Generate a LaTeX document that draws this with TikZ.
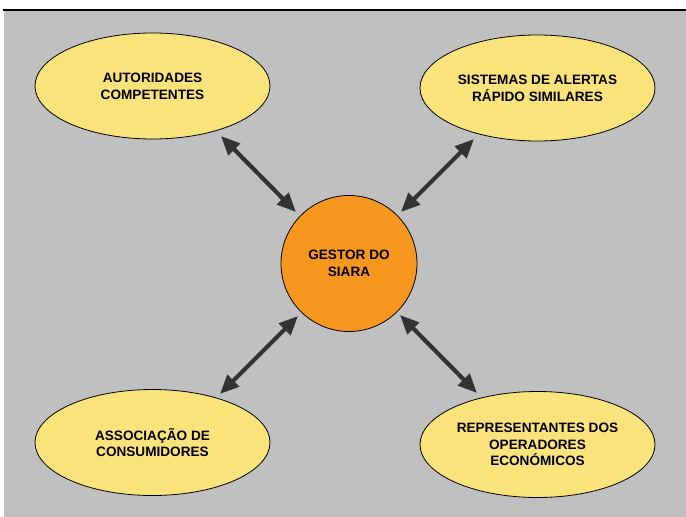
\documentclass[tikz,border=0pt]{standalone}
\usepackage{fontspec}
\setmainfont{Liberation Sans}
\usetikzlibrary{arrows.meta,shapes.geometric}
\definecolor{bggrey}{HTML}{C0C0C0}
\definecolor{ellyellow}{HTML}{FBE37B}
\definecolor{huborange}{HTML}{F7971E}
\definecolor{arrowgrey}{HTML}{333333}
\tikzset{
  entity/.style={ellipse, draw=black, line width=0.8pt, fill=ellyellow,
    minimum width=235pt, minimum height=106pt, inner sep=0pt,
    align=center, font=\fontsize{13.6pt}{16.8pt}\selectfont\bfseries},
  hub/.style={circle, draw=black, line width=0.8pt, fill=huborange,
    minimum size=136pt, inner sep=0pt,
    align=center, font=\fontsize{13.6pt}{16.8pt}\selectfont\bfseries},
  link/.style={draw=arrowgrey, line width=4.2pt,
    {Triangle[length=19pt,width=16pt]}-{Triangle[length=19pt,width=16pt]}}
}
\begin{document}
\begin{tikzpicture}[x=1pt,y=-1pt]
\useasboundingbox (0,0) rectangle (686,517);
\fill[white] (0,0) rectangle (686,517);
\fill[bggrey] (4,10) rectangle (686,517);
\draw[black, line width=1.5pt] (3,10) -- (686,10);

\node[entity] (ac) at (152.5,86) {AUTORIDADES\\COMPETENTES};
\node[entity] (sa) at (537.5,88) {SISTEMAS DE ALERTAS\\RÁPIDO SIMILARES};
\node[entity] (ass) at (152.5,442.5) {ASSOCIAÇÃO DE\\CONSUMIDORES};
\node[entity] (rep) at (537.5,444.5) {REPRESENTANTES DOS\\OPERADORES\\ECONÓMICOS};
\node[hub] (g) at (349,263.5) {GESTOR DO\\SIARA};

\coordinate (a1) at (221,136);
\coordinate (a2) at (296,212);
\coordinate (b1) at (474,139);
\coordinate (b2) at (401,212);
\coordinate (c1) at (298,316);
\coordinate (c2) at (220,394);
\coordinate (d1) at (400,315);
\coordinate (d2) at (477,393);

\draw[link] (a1) -- (a2);
\draw[link] (b1) -- (b2);
\draw[link] (c1) -- (c2);
\draw[link] (d1) -- (d2);
\end{tikzpicture}
\end{document}
